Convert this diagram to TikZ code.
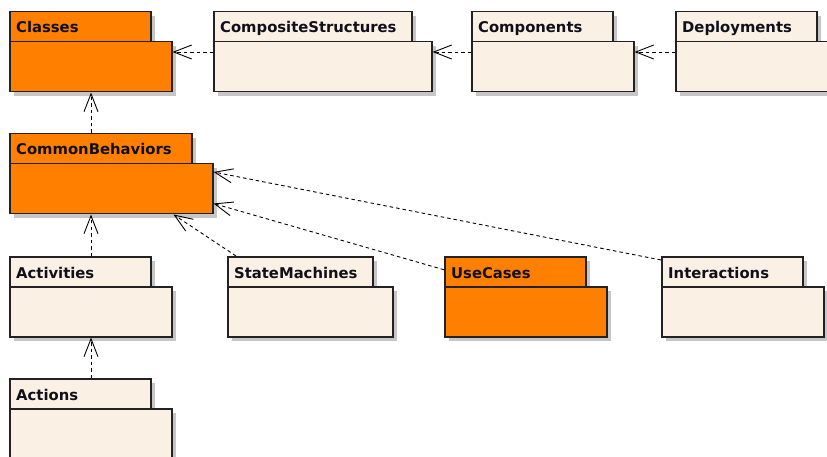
\documentclass[tikz,border=0pt]{standalone}
\usepackage{fontspec}
\setmainfont{DejaVu Sans}
\usetikzlibrary{arrows.meta,shadows}

\definecolor{pkgorange}{HTML}{FF8000}
\definecolor{pkgcream}{HTML}{FAF0E3}
\definecolor{pkgline}{HTML}{222222}
\definecolor{pkgshadow}{HTML}{C6C6C6}
\definecolor{pkgtext}{HTML}{10101C}

\tikzset{
  pkgpart/.style={draw=pkgline, line width=1.5pt, rectangle, inner sep=0pt,
    anchor=north west,
    general shadow={fill=pkgshadow, draw=none, shadow xshift=4pt, shadow yshift=-4pt}},
  pkgtab/.style={pkgpart, minimum height=30pt},
  pkgbody/.style={pkgpart, minimum height=50pt},
  pkglabel/.style={anchor=base west, inner sep=0pt, text=pkgtext,
    font=\fontsize{14.8pt}{16pt}\selectfont\bfseries},
  dep/.style={draw=black, line width=0.9pt, dash pattern=on 3.5pt off 3pt,
    -{Straight Barb[length=18pt,width=14pt,line width=0.9pt]}}
}

% UML package: name, x, y, tab width, body width, fill, label
\newcommand\umlpkg[7]{%
  \node[pkgtab, fill=#6, minimum width=#4pt] (#1tab) at (#2,#3) {};
  \node[pkgbody, fill=#6, minimum width=#5pt] (#1body) at (#2,#3+30) {};
  \node[pkglabel] (#1label) at ([xshift=7pt,yshift=9.5pt]#1tab.south west) {#7};
}

\begin{document}
\begin{tikzpicture}[x=1pt,y=-1pt]
  \useasboundingbox (0,0) rectangle (827,457);
  \fill[white] (0,0) rectangle (827,457);

  % top row
  \umlpkg{cls}{9}{11}{141}{162}{pkgorange}{Classes}
  \umlpkg{cst}{213}{11}{198}{218}{pkgcream}{CompositeStructures}
  \umlpkg{cmp}{471}{11}{141}{162}{pkgcream}{Components}
  \umlpkg{dep}{675}{11}{141}{162}{pkgcream}{Deployments}

  % middle
  \umlpkg{cbh}{9}{133}{182}{203}{pkgorange}{CommonBehaviors}

  % behaviour packages
  \umlpkg{act}{9}{256}{141}{162}{pkgcream}{Activities}
  \umlpkg{stm}{227}{256}{145}{165}{pkgcream}{StateMachines}
  \umlpkg{usc}{444}{256}{141}{162}{pkgorange}{UseCases}
  \umlpkg{int}{661}{256}{141}{162}{pkgcream}{Interactions}
  \umlpkg{acn}{9}{378}{141}{162}{pkgcream}{Actions}

  % dependencies
  \draw[dep] ([yshift=-11pt]cstbody.north west) -- ([yshift=-11pt]clsbody.north east);
  \draw[dep] ([yshift=-11pt]cmpbody.north west) -- ([yshift=-11pt]cstbody.north east);
  \draw[dep] ([yshift=-11pt]depbody.north west) -- ([yshift=-11pt]cmpbody.north east);
  \draw[dep] ([xshift=82pt]cbhtab.north west) -- ([xshift=82pt]clsbody.south west);
  \draw[dep] ([xshift=82pt]acttab.north west) -- ([xshift=82pt]cbhbody.south west);
  \draw[dep] ([xshift=82pt]acntab.north west) -- ([xshift=82pt]actbody.south west);
  \draw[dep] ([xshift=9pt]stmtab.north west) -- ([xshift=-40pt]cbhbody.south east);
  \draw[dep] ([yshift=2pt]usctab.west) -- ([yshift=11pt]cbhbody.south east);
  \draw[dep] ([yshift=-4pt]inttab.north west) -- ([yshift=-9pt]cbhbody.north east);
\end{tikzpicture}
\end{document}
